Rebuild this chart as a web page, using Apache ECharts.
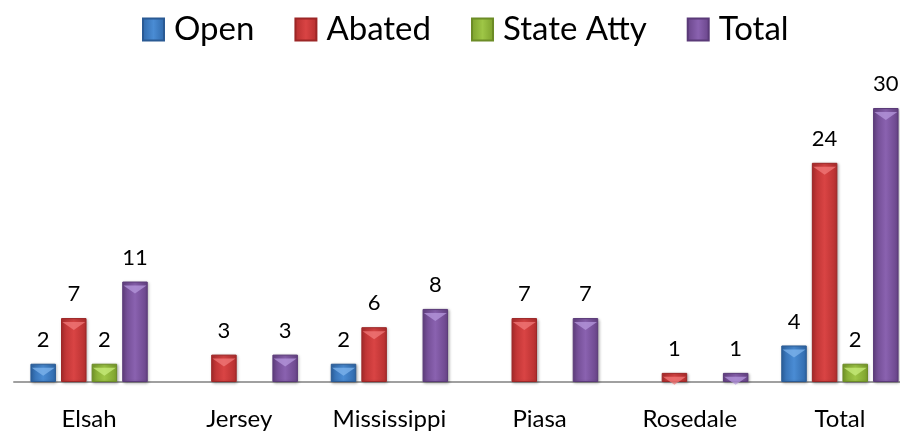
<!DOCTYPE html>
<html>
<head>
<meta charset="utf-8">
<script src="https://cdn.jsdelivr.net/npm/echarts@6/dist/echarts.min.js"></script>
<style>
  html, body { margin: 0; padding: 0; background: #fff; }
  #chart { width: 900px; height: 431px; }
</style>
</head>
<body>
<div id="chart"></div>
<script>
const categories = ['Elsah', 'Jersey', 'Mississippi', 'Piasa', 'Rosedale', 'Total'];
const openData = [2, null, 2, null, null, 4];
const abatedData = [7, 3, 6, 7, 1, 24];
const stateAttyData = [2, null, null, null, null, 2];
const totalData = [11, 3, 8, 7, 1, 30];

// bevel-ish look: lighter in the middle, darker at the edges
function fill(edge, mid) {
  return new echarts.graphic.LinearGradient(0, 0, 1, 0, [
    { offset: 0, color: edge },
    { offset: 0.5, color: mid },
    { offset: 1, color: edge }
  ]);
}

const colors = [
  { edge: '#2f68aa', mid: '#4a8cd4', border: '#2a5a94', tip: '#7fb4ec' },
  { edge: '#b42e2e', mid: '#d94444', border: '#9c2626', tip: '#f07a7a' },
  { edge: '#7ca02c', mid: '#9ec646', border: '#6c8c26', tip: '#c8ec7c' },
  { edge: '#684488', mid: '#8a62b0', border: '#5a3a78', tip: '#b598dc' }
];

function makeSeries(name, data, c) {
  return {
    name: name,
    type: 'bar',
    data: data,
    barWidth: 25.5,
    barGap: '20%',
    itemStyle: {
      color: fill(c.edge, c.mid),
      borderColor: c.border,
      borderWidth: 1,
      shadowColor: 'rgba(0,0,0,0.3)',
      shadowBlur: 3,
      shadowOffsetX: 1,
      shadowOffsetY: 1
    },
    label: {
      show: true,
      position: 'top',
      distance: 13,
      fontFamily: 'Lato',
      fontSize: 22,
      color: '#000'
    }
  };
}

// light triangle on the top of each bar
function makeTip(name, data, c) {
  return {
    name: name + '_tip',
    type: 'pictorialBar',
    data: data,
    barWidth: 25.5,
    barGap: '20%',
    symbol: 'path://M0,0 L2,0 L1,1 Z',
    symbolSize: [23, 8],
    symbolPosition: 'end',
    symbolOffset: [0, 4],
    z: 3,
    silent: true,
    itemStyle: { color: c.tip, opacity: 0.75 }
  };
}

const chart = echarts.init(document.getElementById('chart'));
chart.setOption({
  animation: false,
  textStyle: { fontFamily: 'Lato' },
  legend: {
    top: 13,
    left: 142,
    padding: 0,
    icon: 'rect',
    itemWidth: 21,
    itemHeight: 22,
    itemGap: 40,
    textStyle: { fontFamily: 'Lato', fontSize: 33, color: '#000', padding: [0, 0, 0, 5] },
    data: ['Open', 'Abated', 'State Atty', 'Total']
  },
  grid: { left: 14, top: 108, width: 901, bottom: 49, outerBoundsMode: 'none', containLabel: false },
  xAxis: {
    type: 'category',
    data: categories,
    axisLine: { lineStyle: { color: '#a0a0a0', width: 2 } },
    axisTick: { show: false },
    axisLabel: { fontFamily: 'Lato', fontSize: 24, color: '#000', margin: 25 }
  },
  yAxis: {
    type: 'value',
    min: 0,
    max: 30,
    show: false,
    splitLine: { show: false }
  },
  series: [
    makeSeries('Open', openData, colors[0]),
    makeSeries('Abated', abatedData, colors[1]),
    makeSeries('State Atty', stateAttyData, colors[2]),
    makeSeries('Total', totalData, colors[3]),
    makeTip('Open', openData, colors[0]),
    makeTip('Abated', abatedData, colors[1]),
    makeTip('State Atty', stateAttyData, colors[2]),
    makeTip('Total', totalData, colors[3])
  ]
});
</script>
</body>
</html>
